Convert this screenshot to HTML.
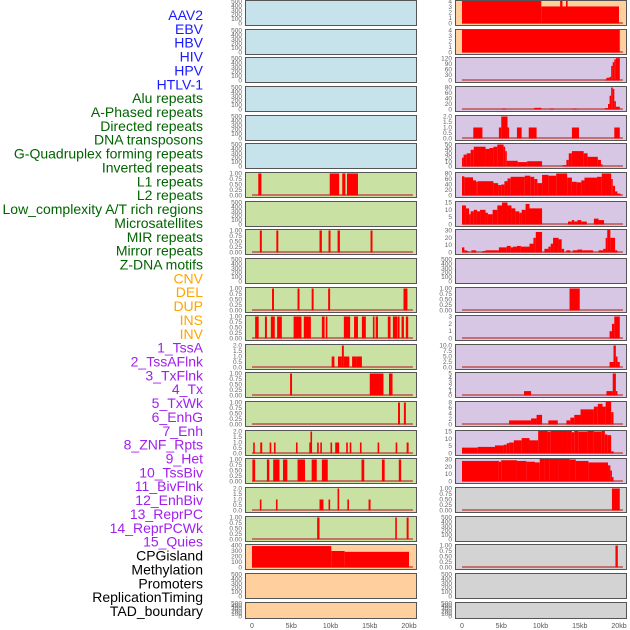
<!DOCTYPE html>
<html><head><meta charset="utf-8"><style>
body{margin:0;background:#fff;width:630px;height:630px;overflow:hidden;font-family:"Liberation Sans",sans-serif}
svg{position:absolute;left:0;top:0}
</style></head><body>
<svg id="c" width="630" height="630"></svg>
<script>
const labels=["AAV2","EBV","HBV","HIV","HPV","HTLV-1","Alu repeats","A-Phased repeats","Directed repeats","DNA transposons","G-Quadruplex forming repeats","Inverted repeats","L1 repeats","L2 repeats","Low_complexity A/T rich regions","Microsatellites","MIR repeats","Mirror repeats","Z-DNA motifs","CNV","DEL","DUP","INS","INV","1_TssA","2_TssAFlnk","3_TxFlnk","4_Tx","5_TxWk","6_EnhG","7_Enh","8_ZNF_Rpts","9_Het","10_TssBiv","11_BivFlnk","12_EnhBiv","13_ReprPC","14_ReprPCWk","15_Quies","CPGisland","Methylation","Promoters","ReplicationTiming","TAD_boundary"];
const labelColors=["#1a1aff","#1a1aff","#1a1aff","#1a1aff","#1a1aff","#1a1aff","#006400","#006400","#006400","#006400","#006400","#006400","#006400","#006400","#006400","#006400","#006400","#006400","#006400","#ffa500","#ffa500","#ffa500","#ffa500","#ffa500","#a020f0","#a020f0","#a020f0","#a020f0","#a020f0","#a020f0","#a020f0","#a020f0","#a020f0","#a020f0","#a020f0","#a020f0","#a020f0","#a020f0","#a020f0","#000","#000","#000","#000","#000"];
const xTicks=[0,5,10,15,20];
const xTickLabels=["0","5kb","10kb","15kb","20kb"];
const t500=[0,100,200,300,400,500], t1=[0,0.25,0.5,0.75,1], t2=[0,0.5,1,1.5,2];
// segments: [startKb, endKb, value]
const segL6=[[0.8,1.2,1],[9.9,11.1,1],[11.5,11.9,1],[12.1,13.5,1]];
const segL8=[[1.0,1.25,1],[3.1,3.35,1],[8.6,8.9,1],[9.75,10,1],[10.9,11.2,1],[15.1,15.35,1]];
const segL10=[[2.55,2.8,1],[5.8,6.05,1],[7.6,7.85,1],[9.7,9.95,1],[19.3,19.8,1]];
const segL11=[[0.4,0.85,1],[1.65,1.9,1],[2.4,2.9,1],[3.2,3.8,1],[5.3,6.3,1],[6.6,7.5,1],[8.9,9.25,1],[9.4,9.6,1],[11.7,12.5,1],[13,13.5,1],[14,14.5,1],[15.4,15.6,1],[15.75,16.05,1],[17.3,17.65,1],[17.95,18.5,1],[18.55,18.8,1],[19.05,19.35,1],[19.6,19.9,1]];
const segL12=[[10.15,10.5,1],[10.95,11.45,1],[11.45,11.7,2],[11.7,12.4,1],[12.75,13.3,1],[13.3,14,1]];
const segL13=[[4.85,5.1,1],[15,16.75,1],[17.45,17.9,1]];
const segL14=[[18.6,18.85,1],[19.35,19.6,1]];
const segL15=[[0.15,0.35,1],[1.05,1.3,1],[2.25,2.45,1],[2.8,3.0,1],[5.6,5.8,1],[7.3,7.45,1],[7.45,7.65,2],[8.3,8.5,1],[8.7,8.9,1],[10,10.2,1],[10.6,11.1,1],[12,12.2,1],[12.45,12.65,1],[13.75,13.95,1],[16,16.2,1],[18.3,18.5,1],[19.7,19.95,1]];
const segL16=[[0.05,0.4,1],[1.9,2.2,1],[2.7,3.5,1],[3.95,4.5,1],[5.8,6.75,1],[7.6,8.25,1],[8.9,9.65,1],[13.95,14.3,1],[16.55,16.9,1],[18.7,19,1]];
const segL17=[[1.0,1.2,1],[3.05,3.25,1],[8.6,9.1,1],[9.75,9.95,1],[10.9,11.1,2],[12.15,12.35,1],[14.85,15.1,1]];
const segL18=[[8.3,8.6,1],[18.25,18.45,1],[19.7,19.95,1]];
const segL19=[[0,10.1,390],[10.1,11.8,300],[11.8,20,285]];
const segR0=[[0,10.1,4.3],[10.1,20,3.1],[12.5,12.8,4.3],[13.25,13.4,4.3]];
const segR1=[[0,20.1,4.3]];
const segR2=[[18.2,18.4,5],[18.4,18.8,15],[18.8,19,20],[19,19.2,80],[19.2,19.4,100],[19.4,19.6,115],[19.6,20.1,122]];
const segR3=[[5.1,5.6,3],[9.2,10.1,6],[11.2,11.7,3],[14.1,14.6,3],[18.2,18.6,5],[18.6,18.8,20],[18.8,19,50],[19,19.2,80],[19.2,19.4,75],[19.4,19.6,30],[19.6,20.1,10]];
const segR4=[[1.44,2.6,1],[4.7,5.0,1],[5.0,5.8,2],[5.8,5.9,1],[7.0,7.6,1],[8.5,9.5,1],[14,14.9,1],[19.4,20.1,1]];
const segR5=[[0,0.2,20],[0.2,0.6,27],[0.6,1.1,30],[1.1,1.5,38],[1.5,3,45],[3,3.5,40],[3.5,4,42],[4,4.5,45],[4.5,5.3,50],[5.3,5.5,45],[5.5,5.7,35],[5.7,7.1,13],[7.1,8.3,10],[8.3,10.2,12],[12.8,13.3,3],[13.3,13.6,15],[13.6,14,30],[14,15.5,35],[15.5,16,30],[16,17.3,22],[17.3,17.7,15],[17.7,17.9,5]];
const segR6=[[0,0.3,70],[0.3,1.4,66],[1.4,1.8,55],[1.8,2,50],[2,4,52],[4,4.6,45],[4.6,5,38],[5,5.4,40],[5.4,5.8,52],[5.8,6.2,62],[6.2,8,68],[8,8.7,72],[8.7,9.2,68],[9.2,9.6,60],[9.6,10.2,45],[10.2,11,75],[11,12,72],[12,13.4,80],[13.4,14,65],[14,14.6,50],[14.6,15.2,48],[15.2,15.6,55],[15.6,17.2,65],[17.2,17.8,68],[17.8,19,80],[19,19.2,60],[19.2,19.5,35],[19.5,19.8,15],[19.8,20.2,7]];
const segR7=[[0,0.5,13],[0.5,0.9,11],[0.9,1.1,7],[1.1,1.5,9],[1.5,1.9,10],[1.9,2.3,9],[2.3,3,10],[3,3.3,8],[3.3,3.9,7],[3.9,4.5,10],[4.5,5.1,13],[5.1,5.8,15],[5.8,6.3,13],[6.3,6.8,11],[6.8,7.3,9],[7.3,7.6,8],[7.6,8.1,10],[8.1,8.6,14],[8.6,10.2,11],[13.5,14,2],[14,14.3,3],[14.3,14.7,2],[14.7,15.2,3],[15.2,15.9,2],[16.8,17.4,4],[17.4,18.1,3]];
const segR8=[[0,0.3,7],[0.3,0.6,3],[0.6,0.8,2],[1.2,1.8,3],[2.6,3,2],[3,4.7,3],[4.7,5.7,7],[5.7,6.2,9],[6.2,6.5,7],[6.5,7,8],[7,7.5,9],[7.5,8.6,8],[8.6,9.1,12],[9.1,9.4,20],[9.4,10.2,28],[10.5,11,5],[11,11.3,8],[11.3,11.6,12],[11.6,12.3,20],[12.3,12.7,18],[12.7,13,5],[13.3,13.8,3],[14.1,14.7,3],[14.7,15.3,4],[15.3,16.7,3],[17.4,18,3],[18,18.3,5],[18.3,18.5,20],[18.5,18.9,31],[18.9,19.5,20],[19.5,19.8,3]];
const segR10=[[13.7,15.0,1]];
const segR11=[[18.8,19.1,1],[19.1,19.4,2],[19.4,20.1,3]];
const segR12=[[18.8,19.3,2.5],[19.3,19.6,10],[19.6,19.8,5],[19.8,20.1,2.5]];
const segR13=[[7.9,8.8,1],[18.4,19.2,1],[19.2,19.6,5],[19.6,19.8,1]];
const segR14=[[6,8.8,1.5],[8.8,9.5,2.2],[9.5,10.2,3.5],[11,12.2,1.5],[13.3,13.8,1.5],[13.8,14.3,2.5],[14.3,15.1,3.5],[15.1,16.8,5.5],[16.8,17.3,6.5],[17.3,17.9,7.5],[17.9,18.3,6.5],[18.3,19,8.5],[19,19.3,4.5]];
const segR15=[[0,2,4],[2,4.2,4.5],[4.2,5.3,5.5],[5.3,5.7,6],[5.7,6,7],[6,6.6,7.5],[6.6,7.6,9],[7.6,8.6,10.5],[8.6,9.7,9],[9.7,10.9,15.5],[10.9,11.3,15],[11.3,13.5,16],[13.5,14,15.5],[14,14.3,14.5],[14.3,14.8,16],[14.8,16,15],[16,16.8,16],[16.8,17.8,15],[17.8,18.2,15.5],[18.2,18.5,13],[18.5,19,12.5],[19,19.3,1.5]];
const segR16=[[0,4.7,28],[4.7,5,27],[5,7,29],[7,8.2,28],[8.2,9.3,27],[9.3,9.9,26],[9.9,10.5,40],[10.5,11.1,36],[11.1,12.3,34],[12.3,13.7,32],[13.7,14.5,30],[14.5,16.1,28],[16.1,18.6,26],[18.6,18.9,22],[18.9,19.1,15],[19.1,19.3,6]];
const segR17=[[19.1,20.1,1]];
const segR19=[[19.55,19.85,1]];
const BLUE="#c6e2ea",GREEN="#c9e1a3",PEACH="#ffd09e",LAV="#d7c7e4",GRAY="#d3d3d3";
const fmt2=v=>v.toFixed(2), fmt1=v=>v.toFixed(1), fmt0=v=>String(v);
const E=null;
// [column, row, bg, ymax, ticks, fmt, segs]
const panels=[
[0,0,BLUE,500,t500,fmt0,E],[0,1,BLUE,500,t500,fmt0,E],[0,2,BLUE,500,t500,fmt0,E],[0,3,BLUE,500,t500,fmt0,E],[0,4,BLUE,500,t500,fmt0,E],[0,5,BLUE,500,t500,fmt0,E],
[0,6,GREEN,1,t1,fmt2,segL6],[0,7,GREEN,500,t500,fmt0,E],[0,8,GREEN,1,t1,fmt2,segL8],[0,9,GREEN,500,t500,fmt0,E],[0,10,GREEN,1,t1,fmt2,segL10],[0,11,GREEN,1,t1,fmt2,segL11],[0,12,GREEN,2,t2,fmt1,segL12],[0,13,GREEN,1,t1,fmt2,segL13],[0,14,GREEN,1,t1,fmt2,segL14],[0,15,GREEN,2,t2,fmt1,segL15],[0,16,GREEN,1,t1,fmt2,segL16],[0,17,GREEN,2,t2,fmt1,segL17],[0,18,GREEN,1,t1,fmt2,segL18],
[0,19,PEACH,400,[0,100,200,300,400],fmt0,segL19],[0,20,PEACH,500,t500,fmt0,E],[0,21,PEACH,500,t500,fmt0,E],
[1,0,PEACH,4,[0,1,2,3,4],fmt0,segR0],[1,1,PEACH,4,[0,1,2,3,4],fmt0,segR1],[1,2,LAV,120,[0,30,60,90,120],fmt0,segR2],[1,3,LAV,80,[0,20,40,60,80],fmt0,segR3],[1,4,LAV,2,t2,fmt1,segR4],[1,5,LAV,50,[0,10,20,30,40,50],fmt0,segR5],[1,6,LAV,80,[0,20,40,60,80],fmt0,segR6],[1,7,LAV,15,[0,5,10,15],fmt0,segR7],[1,8,LAV,30,[0,10,20,30],fmt0,segR8],[1,9,LAV,500,t500,fmt0,E],[1,10,LAV,1,t1,fmt2,segR10],[1,11,LAV,3,[0,1,2,3],fmt0,segR11],[1,12,LAV,10,[0,2.5,5,7.5,10],fmt1,segR12],[1,13,LAV,5,[0,1,2,3,4,5],fmt0,segR13],[1,14,LAV,8,[0,2,4,6,8],fmt0,segR14],[1,15,LAV,15,[0,5,10,15],fmt0,segR15],[1,16,LAV,30,[0,10,20,30],fmt0,segR16],
[1,17,GRAY,1,t1,fmt2,segR17],[1,18,GRAY,500,t500,fmt0,E],[1,19,GRAY,1,t1,fmt2,segR19],[1,20,GRAY,500,t500,fmt0,E],[1,21,GRAY,500,t500,fmt0,E]
];
const NS="http://www.w3.org/2000/svg",svg=document.getElementById('c');
function mk(t,a,p){const e=document.createElementNS(NS,t);for(const k in a)e.setAttribute(k,a[k]);(p||svg).appendChild(e);return e;}
const colX=[245,455],W=171;
function xs(c,kb){return colX[c]+7+kb*7.85;}
labels.forEach((l,i)=>{const t=mk('text',{x:203,y:15+i*13.86+5,'text-anchor':'end','font-size':14,fill:labelColors[i]});t.textContent=l;

});
panels.forEach(p=>{const [c,r,bg,ymax,ticks,fmt,segs]=p;
 const top=Math.round(r*28.65),h=r===21?16:25,bot=top+h;
 const g=mk('g',{});
 
 
 mk('rect',{x:colX[c]+1,y:top+1,width:W,height:h,fill:'#999'},g);
 mk('rect',{x:colX[c]+0.5,y:top+0.5,width:W,height:h,fill:bg,stroke:'#555','stroke-width':1},g);
 const ys=v=>bot-1.5-(v/ymax)*(h-3);
 ticks.forEach(v=>{const t=mk('text',{x:colX[c]-3,y:ys(v)+2,'text-anchor':'end','font-size':6.5,fill:'#666'},g);t.textContent=fmt(v);
  
  });
 if(segs){
  mk('line',{x1:xs(c,0),x2:xs(c,20.5),y1:ys(0)-0.5,y2:ys(0)-0.5,stroke:'#c05050','stroke-width':1.5},g);
  segs.forEach(s=>{const v=Math.min(s[2],ymax*1.04);const y=Math.max(ys(v),top+1);
   const b=mk('rect',{x:xs(c,s[0]),y:y,width:Math.max(xs(c,s[1])-xs(c,s[0]),1.6),height:ys(0)-y,fill:'#ff0000'},g);
   
   });
 }
});
[0,1].forEach(c=>xTicks.forEach((v,i)=>{const t=mk('text',{x:xs(c,v),y:628,'text-anchor':'middle','font-size':7,fill:'#555'});t.textContent=xTickLabels[i];
 
 }));
</script>
</body></html>
